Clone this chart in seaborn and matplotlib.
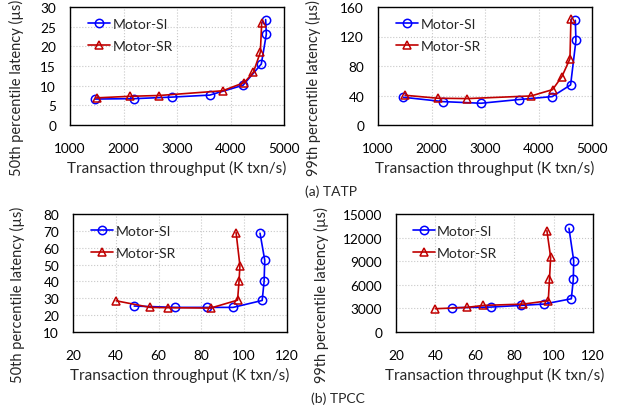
import matplotlib
matplotlib.use("Agg")
import matplotlib.pyplot as plt
from matplotlib.lines import Line2D
from matplotlib.ticker import AutoMinorLocator, MultipleLocator
import seaborn as sns
import pandas as pd

# ---- data ----
series = ["Motor-SI", "Motor-SR"]
colors = {"Motor-SI": "#0000FF", "Motor-SR": "#C00000"}
markers = {"Motor-SI": "o", "Motor-SR": "^"}

tatp_si_tput = [1467, 2202, 2913, 3611, 4234, 4576, 4670, 4657]
tatp_si_p50 = [6.6, 6.7, 7.1, 7.6, 10.1, 15.5, 23.1, 26.8]
tatp_sr_tput = [1498, 2121, 2664, 3853, 4258, 4427, 4558, 4583]
tatp_sr_p50 = [6.9, 7.3, 7.5, 8.7, 10.8, 13.4, 18.5, 26.0]

tatp_si_tput99 = [1475, 2219, 2925, 3631, 4256, 4600, 4700, 4688]
tatp_si_p99 = [37.6, 31.7, 29.5, 34.5, 38.5, 54.4, 114.7, 141.9]
tatp_sr_tput99 = [1506, 2119, 2669, 3863, 4263, 4438, 4588, 4606]
tatp_sr_p99 = [40.3, 36.3, 35.8, 39.4, 48.0, 65.7, 89.8, 143.2]

tpcc_si_tput = [48.6, 67.8, 82.7, 94.8, 108.4, 109.3, 109.6, 107.4]
tpcc_si_p50 = [25.4, 24.6, 24.6, 24.6, 28.7, 40.0, 52.6, 68.6]
tpcc_sr_tput = [40.2, 56.0, 64.3, 84.3, 96.9, 97.6, 98.0, 96.2]
tpcc_sr_p50 = [28.5, 24.6, 24.4, 24.2, 28.9, 40.4, 49.4, 69.0]

tpcc_si_tput99 = [48.5, 68.0, 83.2, 95.1, 109.0, 110.0, 110.2, 107.8]
tpcc_si_p99 = [3084, 3169, 3380, 3549, 4225, 6675, 9083, 13183]
tpcc_sr_tput99 = [40.0, 55.9, 64.4, 84.7, 97.3, 97.9, 98.5, 96.6]
tpcc_sr_p99 = [2958, 3127, 3380, 3549, 3972, 6675, 9506, 12887]

sns.set_style("white")
plt.rcParams["font.family"] = ["Lato", "DejaVu Sans"]

W, H = 618, 410
fig = plt.figure(figsize=(W / 100, H / 100), dpi=100)


def make_ax(left, top, right, bottom):
    return fig.add_axes([left / W, 1 - bottom / H, (right - left) / W, (bottom - top) / H])


def panel(ax, si_x, si_y, sr_x, sr_y, xlim, xstep, xminor, ylim, ystep, ylabel, ylab_x):
    df = pd.DataFrame({
        "x": si_x + sr_x,
        "y": si_y + sr_y,
        "s": [series[0]] * len(si_x) + [series[1]] * len(sr_x),
    })
    sns.lineplot(data=df, x="x", y="y", hue="s", style="s",
                 palette=colors, markers=markers,
                 dashes=False, sort=False, estimator=None,
                 markerfacecolor="none", markeredgewidth=1.1, markersize=6,
                 linewidth=1.2, legend=False, ax=ax)
    for line, s in zip(ax.lines, series):
        line.set_markeredgecolor(colors[s])
    ax.set_xlim(*xlim)
    ax.set_ylim(*ylim)
    ax.xaxis.set_major_locator(MultipleLocator(xstep))
    ax.yaxis.set_major_locator(MultipleLocator(ystep))
    ax.xaxis.set_minor_locator(AutoMinorLocator(xminor))
    ax.yaxis.set_minor_locator(AutoMinorLocator(5))
    ax.tick_params(axis="both", which="major", labelsize=9.8, width=0.8, colors="black")
    ax.tick_params(axis="x", which="major", length=4, direction="out", pad=8)
    ax.tick_params(axis="x", which="minor", length=3, width=0.8, direction="out")
    ax.tick_params(axis="y", which="major", direction="inout", length=6, pad=7)
    ax.tick_params(axis="y", which="minor", length=4, width=0.8, direction="inout")
    ax.grid(True, which="major", linestyle=":", color="#c8c8c8", linewidth=0.8)
    for sp in ax.spines.values():
        sp.set_color("black")
        sp.set_linewidth(1.0)
    ax.set_xlabel("Transaction throughput (K txn/s)", fontsize=11)
    ax.xaxis.set_label_coords(0.5, -0.30)
    ax.set_ylabel(ylabel, fontsize=10.5)
    ax.yaxis.set_label_coords(ylab_x, 0.32)
    handles = [Line2D([], [], color=colors[s], marker=markers[s], markerfacecolor="none",
                      markeredgecolor=colors[s], markeredgewidth=1.1, markersize=6,
                      linewidth=1.2) for s in series]
    ax.legend(handles, series, loc="upper left", frameon=False, fontsize=10,
              handlelength=1.6, handletextpad=0.15, borderaxespad=0, borderpad=0,
              labelspacing=0.75, bbox_to_anchor=(0.085, 0.91))


ax1 = make_ax(70, 8, 284, 126)
panel(ax1, tatp_si_tput, tatp_si_p50, tatp_sr_tput, tatp_sr_p50,
      (1000, 5000), 1000, 5, (0, 30), 5, "50th percentile latency (µs)", -0.215)
ax2 = make_ax(378, 8, 592, 126)
panel(ax2, tatp_si_tput99, tatp_si_p99, tatp_sr_tput99, tatp_sr_p99,
      (1000, 5000), 1000, 5, (0, 160), 40, "99th percentile latency (µs)", -0.266)
ax3 = make_ax(73, 215, 287, 333)
panel(ax3, tpcc_si_tput, tpcc_si_p50, tpcc_sr_tput, tpcc_sr_p50,
      (20, 120), 20, 4, (10, 80), 10, "50th percentile latency (µs)", -0.224)
ax4 = make_ax(396, 215, 593, 333)
panel(ax4, tpcc_si_tput99, tpcc_si_p99, tpcc_sr_tput99, tpcc_sr_p99,
      (20, 120), 20, 4, (0, 15000), 3000, "99th percentile latency (µs)", -0.34)

fig.text(331 / W, 1 - 192 / H, "(a) TATP", ha="center", va="center", fontsize=10)
fig.text(338 / W, 1 - 399 / H, "(b) TPCC", ha="center", va="center", fontsize=10)

fig.savefig("out.png", dpi=100)
